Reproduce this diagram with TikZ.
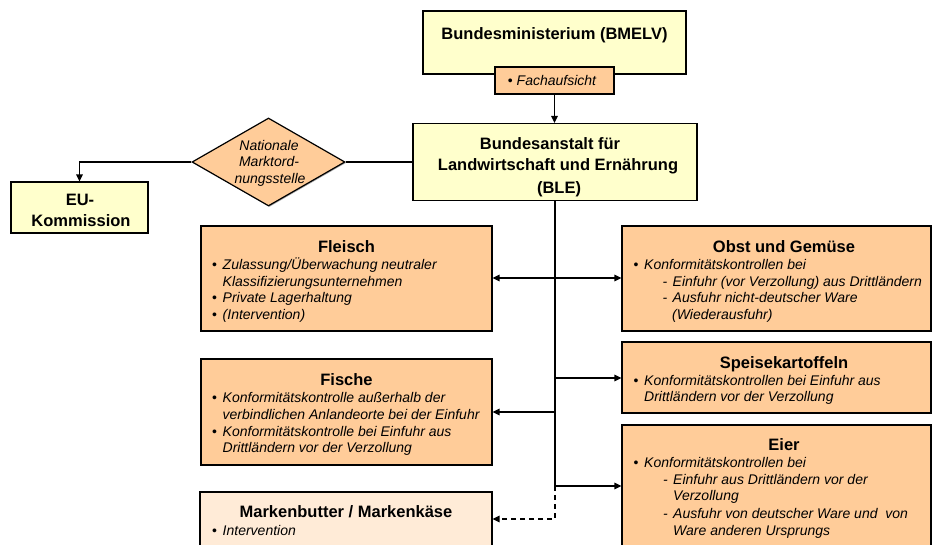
\documentclass[tikz,border=0pt]{standalone}
\usepackage{fontspec}
\setmainfont{Liberation Sans}
\usetikzlibrary{arrows.meta,shapes.geometric,shadows}
\definecolor{ylw}{HTML}{FFFFCC}
\definecolor{peach}{HTML}{FFCC99}
\definecolor{lpeach}{HTML}{FFEBD7}
\newcommand\bul{\makebox[10.5pt][l]{\upshape\textbullet}}
\newcommand\dsh{\makebox[10pt][l]{-}}
\tikzset{
  boxbase/.style={draw=black, line width=1.2pt, inner sep=0pt, rectangle,
    drop shadow={shadow xshift=1pt, shadow yshift=-1pt, fill=black, opacity=0.35}},
  ybox/.style={boxbase, fill=ylw},
  pbox/.style={boxbase, fill=peach},
  lbox/.style={boxbase, fill=lpeach},
  ttl/.style={inner sep=0pt, anchor=base, font=\fontsize{16.5}{20}\selectfont\bfseries},
  bdy/.style={inner sep=0pt, anchor=base west, font=\fontsize{14}{16.7}\selectfont\itshape},
  bdyc/.style={inner sep=0pt, anchor=base, font=\fontsize{14}{16.7}\selectfont\itshape},
  conn/.style={line width=1.3pt, draw=black},
  arr/.style={-{Triangle[length=7pt,width=6.5pt]}},
  trunk/.style={line width=2.8pt, draw=black},
}
\begin{document}
\begin{tikzpicture}[x=1pt,y=-1pt]
\useasboundingbox (0,0) rectangle (933,545);
\clip (0,0) rectangle (933,545);
% boxes
\node[ybox, minimum width=263pt, minimum height=63pt] (bm) at (554.5,42.5) {};
\node[ttl] (bmT) at (554.5,39.3) {Bundesministerium (BMELV)};
\node[pbox, minimum width=119pt, minimum height=27pt] (fach) at (554.5,80.5) {};
\node[bdyc] (fachT) at (552,86) {\upshape\textbullet\ \itshape Fachaufsicht};
\node[ybox, minimum width=284pt, minimum height=77pt] (ble) at (555,162) {};
\node[ttl] (bleA) at (550,149.3) {Bundesanstalt für};
\node[ttl] (bleB) at (558,171) {Landwirtschaft und Ernährung};
\node[ttl] (bleC) at (559,193.8) {(BLE)};
\node[diamond, draw=black, line width=1.2pt, fill=peach, minimum width=153pt, minimum height=88pt, inner sep=0pt,
  drop shadow={shadow xshift=1pt, shadow yshift=-1pt, fill=black, opacity=0.35}] (dia) at (268.5,162) {};
\node[bdyc] (diaA) at (269,151) {Nationale};
\node[bdyc] (diaB) at (269,166.7) {Marktord-};
\node[bdyc] (diaC) at (270,183.3) {nungsstelle};
\node[ybox, minimum width=137pt, minimum height=51pt] (eu) at (79.5,207.5) {};
\node[ttl] (euA) at (80,206) {EU-};
\node[ttl] (euB) at (81,226) {Kommission};
% Fleisch
\node[pbox, minimum width=291pt, minimum height=105pt] (fl) at (346.5,278.5) {};
\node[ttl] (flT) at (346.5,252.6) {Fleisch};
\node[bdy] (fl1) at (212,269.5) {\bul Zulassung/Überwachung neutraler};
\node[bdy] (fl2) at (222.5,286) {Klassifizierungsunternehmen};
\node[bdy] (fl3) at (212,302.5) {\bul Private Lagerhaltung};
\node[bdy] (fl4) at (212,319) {\bul (Intervention)};
% Obst
\node[pbox, minimum width=309pt, minimum height=105pt] (ob) at (776.5,278.5) {};
\node[ttl] (obT) at (784,252.6) {Obst und Gemüse};
\node[bdy] (ob1) at (633.5,269.5) {\bul Konformitätskontrollen bei};
\node[bdy] (ob2) at (662.5,286) {\dsh Einfuhr (vor Verzollung) aus Drittländern};
\node[bdy] (ob3) at (662.5,302.5) {\dsh Ausfuhr nicht-deutscher Ware};
\node[bdy] (ob4) at (672,319) {(Wiederausfuhr)};
% Fische
\node[pbox, minimum width=291pt, minimum height=106pt] (fi) at (346.5,412) {};
\node[ttl] (fiT) at (346.5,385.3) {Fische};
\node[bdy] (fi1) at (212,402.7) {\bul Konformitätskontrolle außerhalb der};
\node[bdy] (fi2) at (222.5,419.3) {verbindlichen Anlandeorte bei der Einfuhr};
\node[bdy] (fi3) at (212,436) {\bul Konformitätskontrolle bei Einfuhr aus};
\node[bdy] (fi4) at (222.5,452.7) {Drittländern vor der Verzollung};
% Speisekartoffeln
\node[pbox, minimum width=309pt, minimum height=71pt] (sp) at (776.5,377.5) {};
\node[ttl] (spT) at (784,368.3) {Speisekartoffeln};
\node[bdy] (sp1) at (633.5,385) {\bul Konformitätskontrollen bei Einfuhr aus};
\node[bdy] (sp2) at (644,401.7) {Drittländern vor der Verzollung};
% Eier
\node[pbox, minimum width=309pt, minimum height=135pt] (ei) at (776.5,492.5) {};
\node[ttl] (eiT) at (784,450.3) {Eier};
\node[bdy] (ei1) at (633.5,467.3) {\bul Konformitätskontrollen bei};
\node[bdy] (ei2) at (663,484) {\dsh Einfuhr aus Drittländern vor der};
\node[bdy] (ei3) at (673,500.7) {Verzollung};
\node[bdy] (ei4) at (663,518.3) {\dsh Ausfuhr von deutscher Ware und\ \ von};
\node[bdy] (ei5) at (673,535) {Ware anderen Ursprungs};
% Markenbutter
\node[lbox, minimum width=292pt, minimum height=68pt] (mk) at (346,526) {};
\node[ttl] (mkT) at (346,517.7) {Markenbutter / Markenkäse};
\node[bdy] (mk1) at (212,535) {\bul Intervention};
% junctions
\coordinate (j1) at (555,278);
\coordinate (j2) at (555,378);
\coordinate (j3) at (555,412);
\coordinate (j4) at (555,486);
\coordinate (j5) at (555,519);
% connectors
\draw[conn,arr] (fach.south) -- (fach.south |- ble.north);
\draw[conn] (ble.west) -- (dia.east);
\draw[conn,arr] (dia.west) -| (eu.north);
\draw[trunk] (ble.south) -- (j4);
\draw[conn,arr] (j1) -- (j1 -| fl.east);
\draw[conn,arr] (j1) -- (j1 -| ob.west);
\draw[conn,arr] (j2) -- (j2 -| sp.west);
\draw[conn,arr] (j3) -- (j3 -| fi.east);
\draw[conn,arr] (j4) -- (j4 -| ei.west);
\draw[conn,arr,dashed,dash pattern=on 5pt off 4pt] (j4) -- (j5) -- (j5 -| mk.east);
\end{tikzpicture}
\end{document}
